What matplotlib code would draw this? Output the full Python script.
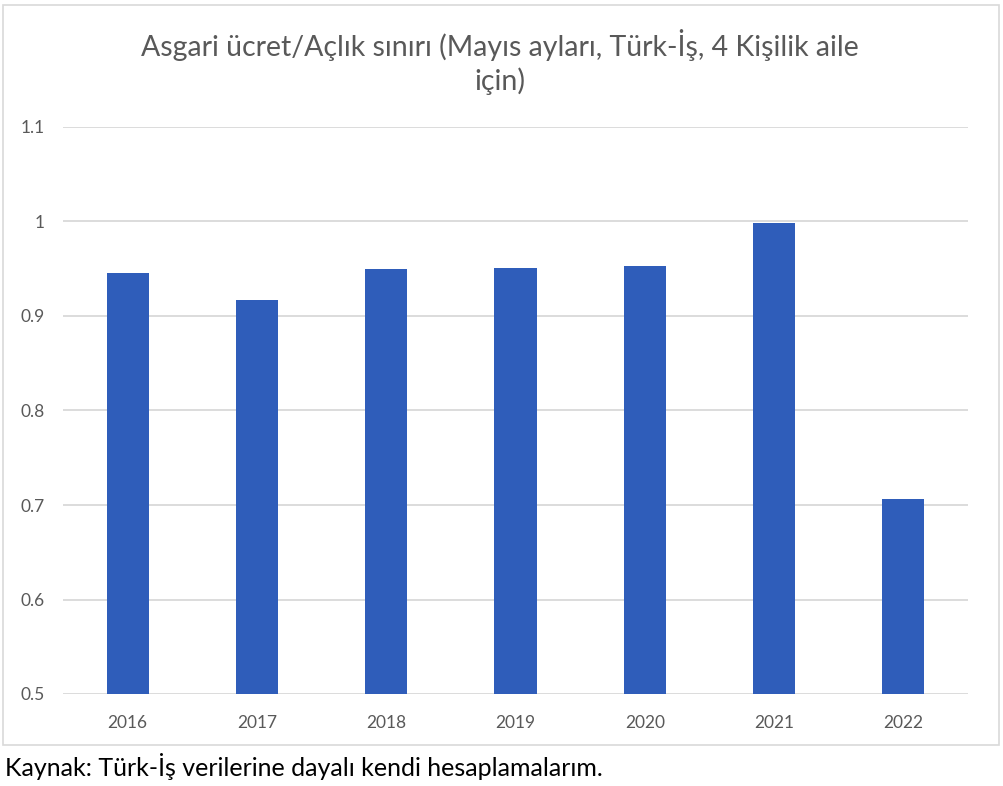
import matplotlib
matplotlib.use("Agg")
import matplotlib.pyplot as plt
from matplotlib.patches import Rectangle

# data
years = ["2016", "2017", "2018", "2019", "2020", "2021", "2022"]
ratio = [0.946, 0.917, 0.950, 0.951, 0.953, 0.998, 0.706]
yticks = [0.5, 0.6, 0.7, 0.8, 0.9, 1.0, 1.1]
ytick_labels = ["0.5", "0.6", "0.7", "0.8", "0.9", "1", "1.1"]

plt.rcParams["font.family"] = ["Lato", "DejaVu Sans"]
grey = "#595959"

fig = plt.figure(figsize=(10.04, 7.86), dpi=100)
ax = fig.add_axes([63/1004, 1-694/786, (968-63)/1004, (694-127)/786])

x = range(len(years))
ax.bar(x, ratio, width=0.325, color="#2F5DBA", zorder=3)
ax.set_xlim(-0.5, len(years)-0.5)
ax.set_ylim(0.5, 1.1)
ax.set_yticks(yticks)
ax.set_yticklabels(ytick_labels)
ax.set_xticks(list(x))
ax.set_xticklabels(years)
ax.tick_params(length=0, colors=grey, labelsize=12.5)
ax.tick_params(axis="x", pad=15)
ax.tick_params(axis="y", pad=13)
ax.grid(axis="y", color="#d9d9d9", linewidth=1.3, zorder=0)
for s in ax.spines.values():
    s.set_visible(False)

fig.text(500/1004, 1-62/786, "Asgari ücret/Açlık sınırı (Mayıs ayları, Türk-İş, 4 Kişilik aile\niçin)",
         ha="center", va="center", fontsize=20.5, color=grey, linespacing=1.3)
fig.text(5/1004, 1-767/786, "Kaynak: Türk-İş verilerine dayalı kendi hesaplamalarım.",
         ha="left", va="center", fontsize=18, color="black")

# chart frame
fig.patches.append(Rectangle((3/1004, 1-745/786), 996/1004, 740/786, transform=fig.transFigure,
                             fill=False, edgecolor="#d9d9d9", linewidth=1.2))

fig.savefig("out.png", dpi=100, facecolor="white")
